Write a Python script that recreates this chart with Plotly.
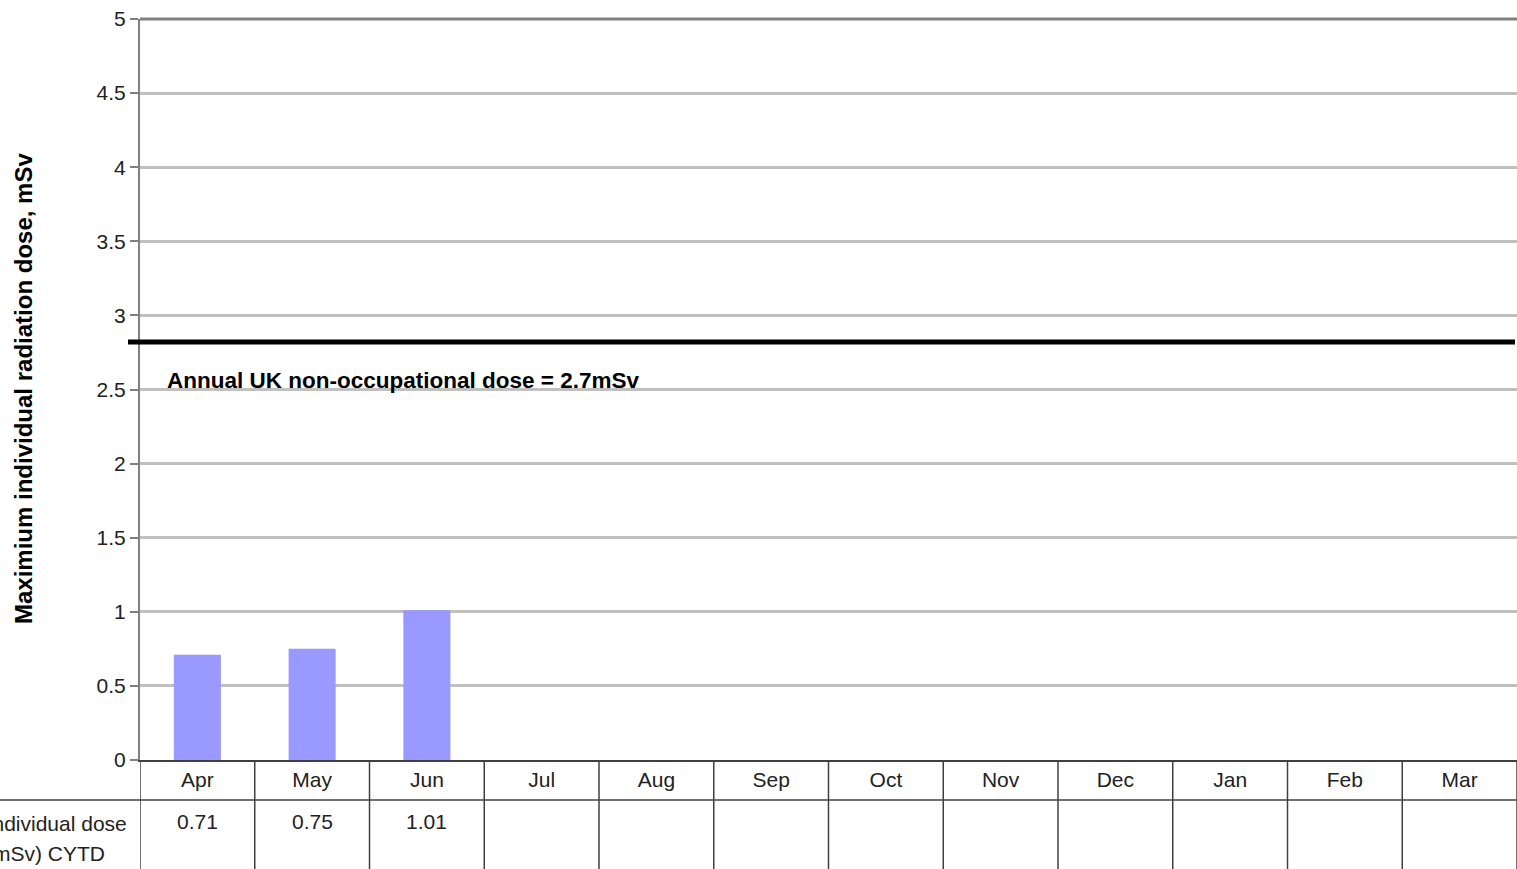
import plotly.graph_objects as go

months = ["Apr", "May", "Jun", "Jul", "Aug", "Sep", "Oct", "Nov", "Dec", "Jan", "Feb", "Mar"]
dose_values = [0.71, 0.75, 1.01]
dose_labels = ["0.71", "0.75", "1.01"]
reference_line_value = 2.82
reference_label = "Annual UK non-occupational dose = 2.7mSv"
y_title = "Maximium individual radiation dose, mSv"
row_label_1 = "Maximum individual dose"
row_label_2 = "(mSv) CYTD"

W, H = 1517, 869
ML, MR, MT, MB = 140, 0, 19, 109
PW = W - ML - MR
PH = H - MT - MB

def px_x(p):  # pixel x -> paper
    return (p - ML) / PW

def px_y(p):  # pixel y -> paper
    return (H - MB - p) / PH

FONT = "Liberation Sans, Arial, sans-serif"
FS = 21

fig = go.Figure()
fig.add_trace(go.Bar(
    x=months[:len(dose_values)], y=dose_values,
    marker=dict(color="#9999ff", line=dict(width=0)),
    width=0.41, showlegend=False, hoverinfo="x+y",
))

shapes = []
# top border line (plot top)
shapes.append(dict(type="line", xref="paper", yref="paper", x0=0, x1=1, y0=1, y1=1,
                   line=dict(color="#808080", width=3)))
# reference thick line
shapes.append(dict(type="line", xref="paper", yref="y", x0=px_x(128), x1=px_x(1515),
                   y0=reference_line_value, y1=reference_line_value,
                   line=dict(color="#000000", width=5)))
# table lines
tbl_color = "#404040"
for i in range(len(months) + 1):
    xb = i - 0.5
    shapes.append(dict(type="line", xref="x", yref="paper", x0=xb, x1=xb,
                       y0=0, y1=px_y(H + 5), line=dict(color=tbl_color, width=1.5)))
shapes.append(dict(type="line", xref="paper", yref="paper", x0=px_x(0), x1=1,
                   y0=px_y(800), y1=px_y(800), line=dict(color=tbl_color, width=1.5)))

annotations = []
annotations.append(dict(text="<b>" + reference_label + "</b>", xref="paper", yref="paper",
                        x=px_x(165), y=px_y(380), xanchor="left", yanchor="middle",
                        showarrow=False, font=dict(family=FONT, size=22.5, color="#000")))
for m, lab in zip(months, dose_labels):
    annotations.append(dict(text=lab, xref="x", yref="paper", x=m, y=px_y(821),
                            xanchor="center", yanchor="middle", showarrow=False,
                            font=dict(family=FONT, size=FS, color="#222")))
annotations.append(dict(text=row_label_1, xref="paper", yref="paper", x=px_x(129), y=px_y(823),
                        xanchor="right", yanchor="middle", showarrow=False,
                        font=dict(family=FONT, size=FS, color="#222")))
annotations.append(dict(text=row_label_2, xref="paper", yref="paper", x=px_x(107), y=px_y(853),
                        xanchor="right", yanchor="middle", showarrow=False,
                        font=dict(family=FONT, size=FS, color="#222")))
annotations.append(dict(text="<b>" + y_title + "</b>", xref="paper", yref="paper",
                        x=px_x(23), y=px_y(389), xanchor="center", yanchor="middle",
                        textangle=-90, showarrow=False,
                        font=dict(family=FONT, size=24, color="#000")))

fig.update_layout(
    width=W, height=H,
    margin=dict(l=ML, r=MR, t=MT, b=MB, pad=0),
    paper_bgcolor="white", plot_bgcolor="white",
    font=dict(family=FONT, size=FS, color="#222"),
    shapes=shapes, annotations=annotations,
    xaxis=dict(
        type="category", categoryorder="array", categoryarray=months,
        range=[-0.5, len(months) - 0.5],
        showgrid=False, showline=True, linecolor="#404040", linewidth=2,
        ticks="", tickfont=dict(family=FONT, size=FS, color="#222"),
        ticklabelstandoff=0, zeroline=False, fixedrange=True,
    ),
    yaxis=dict(
        range=[0, 5], dtick=0.5, tick0=0,
        showgrid=True, gridcolor="#c0c0c0", gridwidth=2.5,
        showline=True, linecolor="#808080", linewidth=2,
        ticks="outside", ticklen=8, tickcolor="#808080", tickwidth=1.5,
        tickfont=dict(family=FONT, size=FS, color="#222"),
        zeroline=False, fixedrange=True,
    ),
)

fig.write_html(
    "out.html",
    config={"displayModeBar": False},
    post_script="document.body.style.margin='0';document.body.style.overflow='hidden';",
)
